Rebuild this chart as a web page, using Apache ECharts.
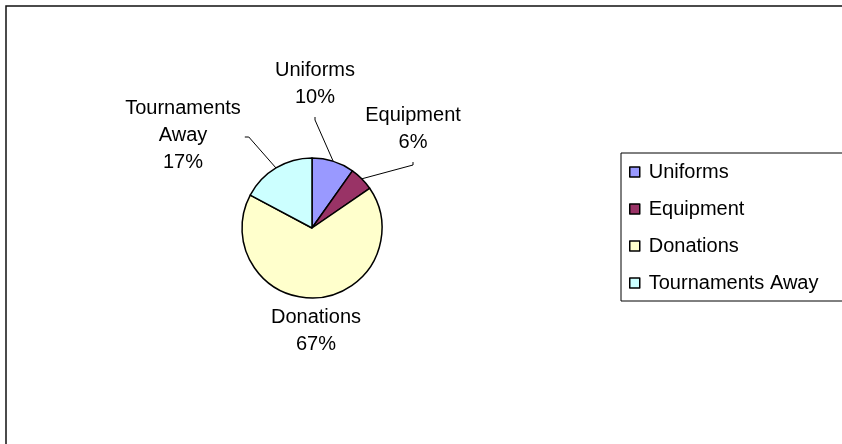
<!DOCTYPE html>
<html>
<head>
<meta charset="utf-8">
<script src="https://cdn.jsdelivr.net/npm/echarts@6/dist/echarts.min.js"></script>
<style>
html,body{margin:0;padding:0;background:#fff;}
#chart{width:842px;height:444px;}
</style>
</head>
<body>
<div id="chart"></div>
<script>
// ---- data ----
const categories = ['Uniforms', 'Equipment', 'Donations', 'Tournaments Away'];
const values = [9.8, 5.6, 67.4, 17.2];

// ---- styling / layout ----
const colors = ['#9999FF', '#993366', '#FFFFCC', '#CCFFFF'];
const labelCenters = [[315, 84], [413, 129], [316, 331], [183, 135]];
const leaderSide = ['bottom', 'bottom', null, 'right'];
const FONT = "'Liberation Sans', Arial, sans-serif";

const chart = echarts.init(document.getElementById('chart'), null, {renderer: 'canvas'});

const seriesData = categories.map((c, i) => ({
  name: c,
  value: values[i],
  itemStyle: {color: colors[i]},
  labelLine: {show: leaderSide[i] !== null}
}));

chart.setOption({
  animation: false,
  backgroundColor: '#fff',
  graphic: [{
    type: 'rect',
    shape: {x: 6, y: 6, width: 1000, height: 1000},
    style: {fill: 'none', stroke: '#111', lineWidth: 1.5},
    silent: true,
    z: -1
  }],
  legend: {
    orient: 'vertical',
    left: 621,
    top: 153,
    padding: [9, 40, 8, 8],
    borderColor: '#000',
    borderWidth: 1,
    itemGap: 17,
    itemWidth: 10,
    itemHeight: 10,
    icon: 'rect',
    itemStyle: {borderColor: '#000', borderWidth: 1.5},
    textStyle: {fontFamily: FONT, fontSize: 20, color: '#000', lineHeight: 20, padding: [0, 0, 0, 4]},
    data: categories
  },
  series: [{
    type: 'pie',
    center: [312, 228],
    radius: 70,
    startAngle: 90,
    clockwise: true,
    avoidLabelOverlap: false,
    itemStyle: {borderColor: '#000', borderWidth: 1.5},
    emphasis: {disabled: true},
    label: {
      show: true,
      position: 'outside',
      fontFamily: FONT,
      fontSize: 20,
      lineHeight: 27,
      color: '#000',
      align: 'center',
      formatter: function (p) {
        return p.name.replace(' ', '\n') + '\n' + Math.round(p.percent) + '%';
      }
    },
    labelLine: {
      show: true,
      length: 10,
      length2: 3,
      smooth: false,
      lineStyle: {color: '#000', width: 1}
    },
    labelLayout: function (params) {
      const i = params.dataIndex;
      const c = labelCenters[i];
      const out = {x: c[0], y: c[1], align: 'center', verticalAlign: 'middle'};
      const side = leaderSide[i];
      const pts = params.labelLinePoints;
      if (side && pts && pts.length) {
        const a = [pts[0][0], pts[0][1]];
        const hw = params.labelRect.width / 2;
        const hh = params.labelRect.height / 2;
        if (side === 'bottom') {
          out.labelLinePoints = [a, [c[0], c[1] + hh + 9], [c[0], c[1] + hh + 6]];
        } else {
          out.labelLinePoints = [a, [c[0] + hw + 8, c[1] + 2], [c[0] + hw + 4, c[1] + 2]];
        }
      }
      return out;
    },
    data: seriesData
  }]
});
</script>
</body>
</html>
